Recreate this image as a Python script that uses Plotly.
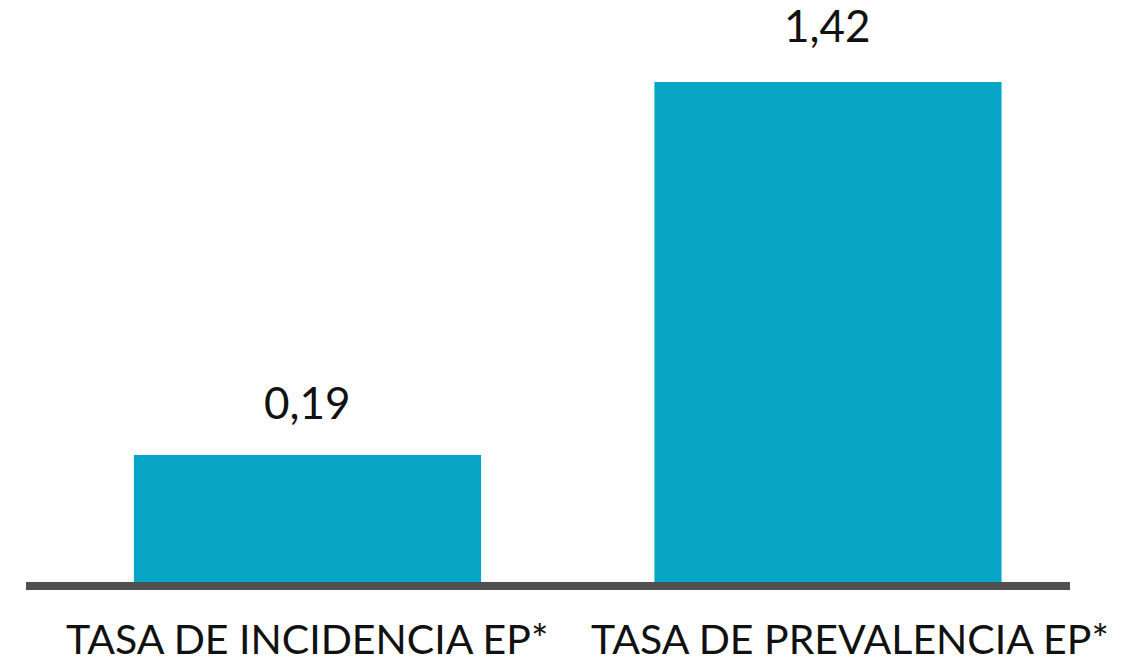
import numpy as np
import plotly.graph_objects as go

categories = ["TASA DE INCIDENCIA EP*", "TASA DE PREVALENCIA EP*"]
values = [0.19, 1.42]
labels = [f"{v:.2f}".replace(".", ",") for v in values]

BAR_COLOR = "#07A5C6"
FONT = "Lato, Open Sans, sans-serif"
label_xshift = [0, 22]
value_yshift = [25, 29]

fig = go.Figure(go.Bar(
    x=categories, y=values, width=0.667,
    marker=dict(color=BAR_COLOR, line=dict(width=0)),
    hoverinfo="skip",
))

for c, v, t, ys in zip(categories, values, labels, value_yshift):
    fig.add_annotation(x=c, y=np.log10(v), text=t, showarrow=False,
                       yanchor="bottom", yshift=ys,
                       font=dict(family=FONT, size=44, color="#111111"))

for c, xs in zip(categories, label_xshift):
    fig.add_annotation(x=c, xref="x", y=0, yref="paper", text=c, showarrow=False,
                       yanchor="top", yshift=-30, xshift=xs,
                       font=dict(family=FONT, size=41, color="#111111"))

fig.update_layout(
    width=1129, height=661,
    margin=dict(l=26, r=59, t=82, b=79, autoexpand=False),
    paper_bgcolor="white", plot_bgcolor="white",
    showlegend=False,
    font=dict(family=FONT, color="#111111"),
)
fig.update_xaxes(range=[-0.5408, 1.465], showline=True, linewidth=8, linecolor="#505050",
                 showgrid=False, zeroline=False, ticks="", showticklabels=False,
                 automargin=False)
fig.update_yaxes(type="log", range=[-1.0186, 0.1523], visible=False, showgrid=False,
                 automargin=False)

fig.write_html("out.html", config={"displayModeBar": False},
               post_script="document.body.style.margin='0px';document.body.style.overflow='hidden';")
